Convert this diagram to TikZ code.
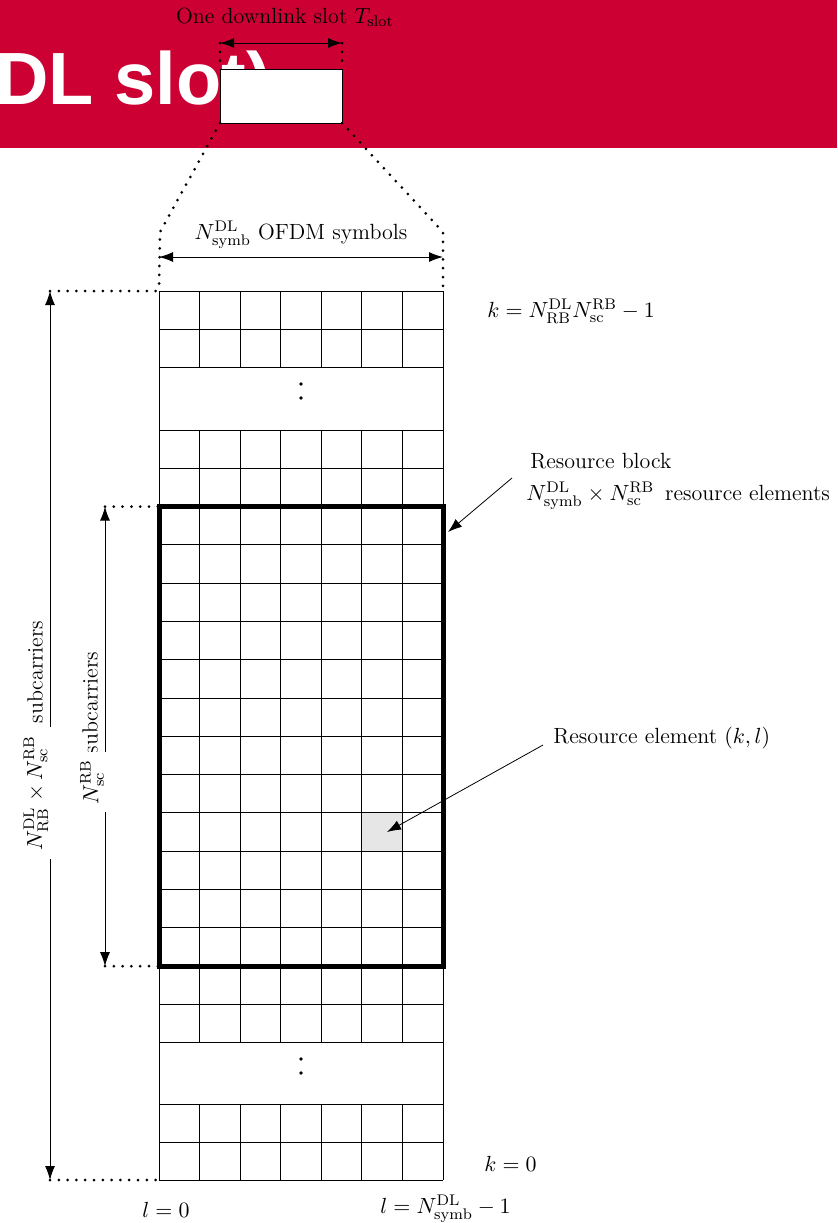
\documentclass[tikz,border=0pt]{standalone}
\usepackage{amsmath}
\usepackage{fontspec}
\newfontfamily\bannerfont{Liberation Sans}
\usepackage{tikz}
\usetikzlibrary{arrows.meta, positioning, calc}

\definecolor{bannerred}{HTML}{CC0033}
\definecolor{cellgray}{HTML}{E6E6E6}

\tikzset{
  lbl/.style={font=\fontsize{11}{13}\selectfont, inner sep=1pt},
  dotline/.style={line width=1.5pt, line cap=round, dash pattern=on 0pt off 4.4pt},
  dimarrow/.style={line width=0.5pt, {Latex[length=7pt,width=5pt]}-{Latex[length=7pt,width=5pt]}},
  callout/.style={line width=0.4pt, -{Latex[length=7pt,width=5pt]}},
  rbframe/.style={line width=2.5pt}
}

\begin{document}
\begin{tikzpicture}[x=0.5pt, y=-0.5pt]
  \useasboundingbox (0,0) rectangle (837,1223);

  % banner with the slot
  \fill[bannerred] (0,0) rectangle (837,148);
  \node[anchor=base west, inner sep=0, text=white,
        font=\bannerfont\bfseries\fontsize{37}{37}\selectfont] (title) at (-5,104) {DL slot)};
  \coordinate (S1) at (220,69);
  \coordinate (S2) at (342,69);
  \coordinate (S3) at (220,123);
  \coordinate (S4) at (342,123);
  \draw[fill=white, line width=0.5pt] (S1) rectangle (S4);

  \coordinate (T1) at (220,43);
  \coordinate (T2) at (342,43);
  \draw[dotline] (T1) -- (S1);
  \draw[dotline] (T2) -- (S2);
  \draw[dimarrow] (T1) -- (T2);
  \node[lbl] (slotlbl) at (285,17) {One downlink slot $T_{\mathrm{slot}}$};

  % grid corners
  \coordinate (G-tl) at (159,291);
  \coordinate (G-tr) at (443,291);
  \coordinate (G-bl) at (159,1180);
  \coordinate (G-br) at (443,1180);
  \coordinate (RB-tl) at (159,506.6);
  \coordinate (RB-br) at (443,966.2);
  \coordinate (RB-bl) at (159,966.2);

  % zoom lines from the slot to the grid
  \coordinate (D1) at (160,232);
  \coordinate (D2) at (443,232);
  \draw[dotline] (S3) -- (D1) -- (G-tl);
  \draw[dotline] (S4) -- (D2) -- (G-tr);

  % OFDM symbols
  \coordinate (O1) at (159,257);
  \coordinate (O2) at (443,257);
  \draw[dimarrow] (O1) -- (O2);
  \node[lbl] (symblbl) at (301,235) {$N_{\mathrm{symb}}^{\mathrm{DL}}$ OFDM symbols};

  % resource element
  \fill[cellgray] ({159+5*40.57},{430+10*38.29}) rectangle ++(40.57,38.29);

  % grid
  \foreach \ya/\yb/\n in {291/367.6/2, 430/1042.6/16, 1104/1180/2} {
    \foreach \i in {1,...,6}
      \draw[line width=0.5pt] ({159+\i*40.57},\ya) -- ({159+\i*40.57},\yb);
    \foreach \j in {0,...,\n}
      \draw[line width=0.5pt] (159,{\ya+\j*(\yb-\ya)/\n}) -- (443,{\ya+\j*(\yb-\ya)/\n});
  }
  \draw[line width=0.5pt] (G-tl) -- (G-bl);
  \draw[line width=0.5pt] (G-tr) -- (G-br);
  \fill (301,384) circle (0.9pt);
  \fill (301,398) circle (0.9pt);
  \fill (301,1059) circle (0.9pt);
  \fill (301,1073) circle (0.9pt);

  % resource block
  \draw[rbframe] (RB-tl) rectangle (RB-br);

  % all subcarriers
  \coordinate (L1) at (50,291);
  \coordinate (L2) at (50,1180);
  \draw[dotline] (L1) -- (G-tl);
  \draw[dotline] (L2) -- (G-bl);
  \draw[dimarrow] (L1) -- (L2);
  \node[lbl, rotate=90] (allsc) at (35,672) {subcarriers};
  \node[lbl, rotate=90, fill=white, inner sep=4pt] (allnum) at (36,793)
    {$N_{\mathrm{RB}}^{\mathrm{DL}}\times N_{\mathrm{sc}}^{\mathrm{RB}}$};

  % subcarriers of one block
  \coordinate (I1) at (105,506.6);
  \coordinate (I2) at (105,966.2);
  \draw[dotline] (I1) -- (RB-tl);
  \draw[dotline] (I2) -- (RB-bl);
  \draw[dimarrow] (I1) -- (I2);
  \node[lbl, rotate=90] (rbsc) at (90,703) {subcarriers};
  \node[lbl, rotate=90, fill=white, inner sep=4pt] (rbnum) at (92,782)
    {$N_{\mathrm{sc}}^{\mathrm{RB}}$};

  % labels on the right
  \node[lbl, anchor=west] (ktop) at (485,311)
    {$k=N_{\mathrm{RB}}^{\mathrm{DL}}N_{\mathrm{sc}}^{\mathrm{RB}}-1$};
  \node[lbl, anchor=west] (rblbl) at (528,461) {Resource block};
  \node[lbl, anchor=west] (rbsize) at (524,496)
    {$N_{\mathrm{symb}}^{\mathrm{DL}}\times N_{\mathrm{sc}}^{\mathrm{RB}}$\enskip resource elements};
  \coordinate (C1) at (512,478);
  \coordinate (C2) at (448,532);
  \draw[callout] (C1) -- (C2);

  \node[lbl, anchor=west] (relbl) at (551,738) {Resource element $(k,l)$};
  \coordinate (E1) at (543,745);
  \coordinate (E2) at (387,832);
  \draw[callout] (E1) -- (E2);

  % index labels
  \node[lbl, anchor=west] (kzero) at (482,1164) {$k=0$};
  \node[lbl] (lzero) at (166,1210) {$l=0$};
  \node[lbl, anchor=west] (llast) at (378,1209) {$l=N_{\mathrm{symb}}^{\mathrm{DL}}-1$};
\end{tikzpicture}
\end{document}
